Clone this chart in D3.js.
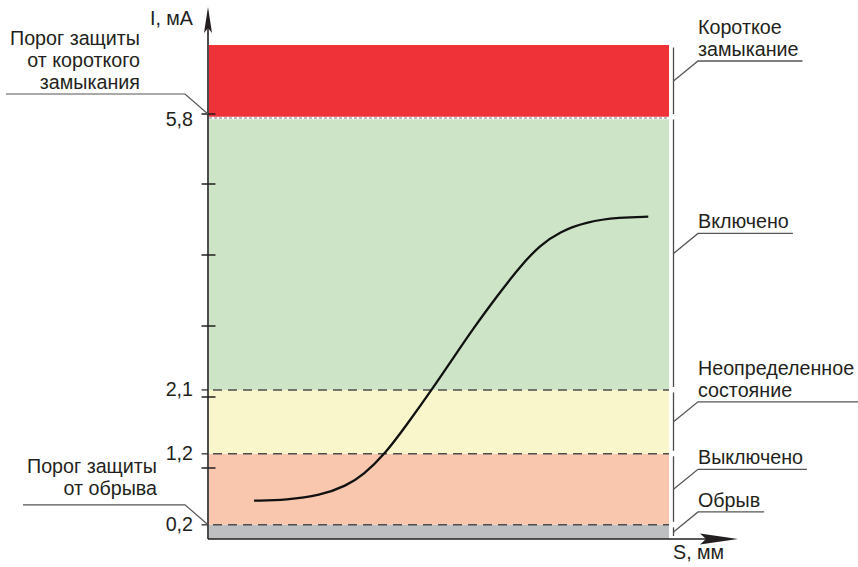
<!DOCTYPE html>
<html>
<head>
<meta charset="utf-8">
<script src="https://cdn.jsdelivr.net/npm/d3@7/dist/d3.min.js"></script>
<style>
  html, body { margin: 0; padding: 0; background: #ffffff; }
  svg { display: block; }
  text { font-family: "Liberation Sans", Arial, Helvetica, sans-serif; font-size: 19.7px; fill: #231F20; }
</style>
</head>
<body>
<svg id="chart" width="858" height="567"></svg>
<script>
// ---------------- data ----------------
const bandBounds = [0, 0.2, 1.2, 2.1, 5.8, 7.0];            // I, mA
const bandLabelLines = [["Обрыв"], ["Выключено"], ["Неопределенное", "состояние"], ["Включено"], ["Короткое", "замыкание"]];
const bandColors = ["#BDBFC1", "#F9C6AE", "#F9F6CB", "#CDE5C6", "#EF3138"];
const thresholdValues = [0.2, 1.2, 2.1, 5.8];
const thresholdLabels = ["0,2", "1,2", "2,1", "5,8"];
const minorTicks = [1, 2, 3, 4, 5];
const protectionValues = [0.2, 5.8];
const protectionLines = [["Порог защиты", "от обрыва"], ["Порог защиты", "от короткого", "замыкания"]];
const curveS = [9.8, 16.9, 24.1, 29.9, 33.5, 38.3, 43.0, 48.4, 53.1, 57.5, 62.5, 67.6, 72.0, 76.3, 82.1, 89.3, 95.5];
const curveI = [0.54, 0.55, 0.61, 0.75, 0.90, 1.20, 1.61, 2.10, 2.55, 2.97, 3.41, 3.84, 4.14, 4.33, 4.47, 4.53, 4.54];
const axisTitleY = "I, мА";
const axisTitleX = "S, мм";

// ---------------- layout ----------------
const svg = d3.select("#chart");
const x = d3.scaleLinear().domain([0, 100]).range([209, 669]);
const y = d3.scaleLinear().domain([0, 5, 5.8, 7]).range([539, 184, 117, 45]);
const axisX = 208, axisBottom = y(0);
const ink = "#231F20";

// bands
svg.append("g").selectAll("rect").data(bandColors).join("rect")
  .attr("x", x(0)).attr("width", x(100) - x(0))
  .attr("y", (d, i) => y(bandBounds[i + 1]))
  .attr("height", (d, i) => y(bandBounds[i]) - y(bandBounds[i + 1]))
  .attr("fill", d => d);

// threshold lines
thresholdValues.forEach((v, i) => {
  const yy = y(v);
  if (v === 5.8) {
    svg.append("line").attr("x1", x(0)).attr("x2", x(100)).attr("y1", yy + 1).attr("y2", yy + 1)
      .attr("stroke", "#ffffff").attr("stroke-width", 2.5);
    svg.append("line").attr("x1", x(0)).attr("x2", x(100)).attr("y1", yy + 1).attr("y2", yy + 1)
      .attr("stroke", "#7a7a7a").attr("stroke-width", 1.2).attr("stroke-dasharray", "3,2");
    svg.append("line").attr("x1", axisX - 6.5).attr("x2", axisX + 7.5).attr("y1", yy - 3).attr("y2", yy - 3)
      .attr("stroke", ink).attr("stroke-width", 1.5);
  } else {
    svg.append("line").attr("x1", axisX + 5).attr("x2", x(100)).attr("y1", yy).attr("y2", yy)
      .attr("stroke", "#4d4d4d").attr("stroke-width", 1.5).attr("stroke-dasharray", "9,6");
    svg.append("line").attr("x1", axisX - 6.5).attr("x2", axisX).attr("y1", yy).attr("y2", yy)
      .attr("stroke", "#4d4d4d").attr("stroke-width", 1.5);
  }
  svg.append("text").attr("x", 193).attr("y", yy + (v === 5.8 ? 9 : 6.5))
    .attr("text-anchor", "end").text(thresholdLabels[i]);
});

// minor ticks
svg.append("g").selectAll("line").data(minorTicks).join("line")
  .attr("x1", axisX - 6.5).attr("x2", axisX + 7.5)
  .attr("y1", d => y(d)).attr("y2", d => y(d))
  .attr("stroke", ink).attr("stroke-width", 1.5);

// curve
const pts = curveS.map((s, i) => [s, curveI[i]]);
svg.append("path").datum(pts)
  .attr("d", d3.line().x(d => x(d[0])).y(d => y(d[1])).curve(d3.curveBasis))
  .attr("fill", "none").attr("stroke", "#111").attr("stroke-width", 2.3);

// axes
svg.append("line").attr("x1", axisX).attr("x2", axisX).attr("y1", axisBottom).attr("y2", 28)
  .attr("stroke", ink).attr("stroke-width", 1.6);
svg.append("path").attr("d", `M${axisX},7 L${axisX + 4},33 L${axisX},28 L${axisX - 4},33 Z`).attr("fill", ink);
svg.append("line").attr("x1", axisX).attr("x2", 706).attr("y1", axisBottom).attr("y2", axisBottom)
  .attr("stroke", ink).attr("stroke-width", 1.6);
svg.append("path").attr("d", `M738,${axisBottom} L700,${axisBottom - 5.5} L706,${axisBottom} L700,${axisBottom + 5.5} Z`).attr("fill", ink);
svg.append("text").attr("x", 193).attr("y", 25).attr("text-anchor", "end").text(axisTitleY);
svg.append("text").attr("x", 673).attr("y", 559).text(axisTitleX);

// right state brackets and labels
bandLabelLines.forEach((lines, i) => {
  const top = y(bandBounds[i + 1]), bot = y(bandBounds[i]);
  const mid = (top + bot) / 2;
  svg.append("line").attr("x1", 673.5).attr("x2", 673.5).attr("y1", top + 2.5).attr("y2", bot - 3)
    .attr("stroke", "#4a4a4a").attr("stroke-width", 1.3);
  const ly = mid - 20;
  const g = svg.append("g");
  let maxW = 0;
  lines.forEach((t, k) => {
    const tx = g.append("text").attr("x", 698).attr("y", ly - 5 - 22 * (lines.length - 1 - k)).text(t);
    maxW = Math.max(maxW, tx.node().getComputedTextLength());
  });
  svg.append("path").attr("d", `M673.5,${mid} L698,${ly} L${Math.min(858, 698 + maxW + 4)},${ly}`)
    .attr("fill", "none").attr("stroke", "#555").attr("stroke-width", 1.3);
});

// left protection labels
protectionValues.forEach((v, i) => {
  const lines = protectionLines[i];
  const yy = v === 5.8 ? y(v) - 3 : y(v);
  const ly = yy - 20;
  const rightX = v === 5.8 ? 140 : 157;
  const baseY = v === 5.8 ? ly - 5 : ly - 10;
  let minX = 1e9;
  lines.forEach((t, k) => {
    const tx = svg.append("text").attr("x", rightX).attr("y", baseY - 22 * (lines.length - 1 - k))
      .attr("text-anchor", "end").text(t);
    minX = Math.min(minX, rightX - tx.node().getComputedTextLength());
  });
  svg.append("path").attr("d", `M${axisX},${yy} L185,${ly} L${minX - 4},${ly}`)
    .attr("fill", "none").attr("stroke", "#555").attr("stroke-width", 1.2);
});
</script>
</body>
</html>
